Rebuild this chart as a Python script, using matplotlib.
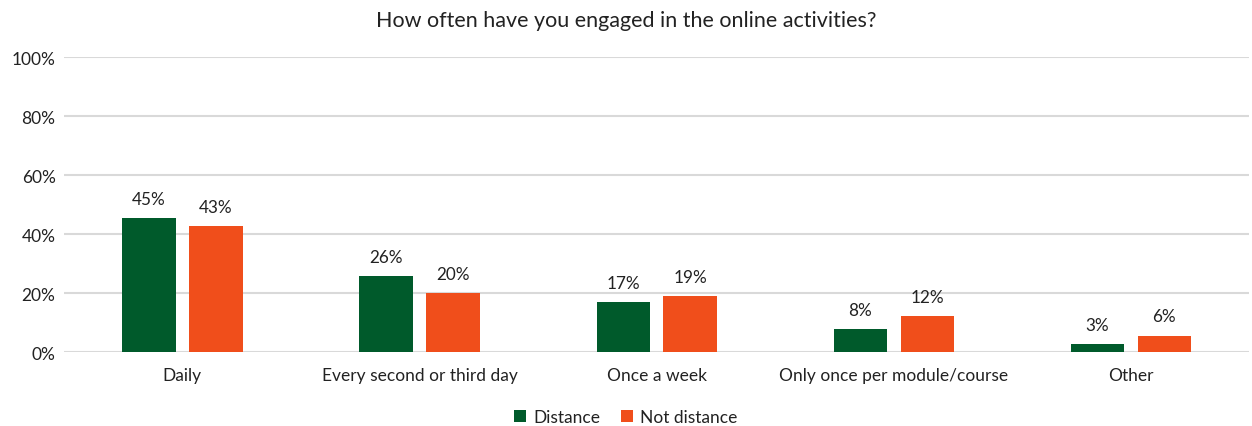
import numpy as np
from matplotlib import pyplot as plt

plt.rcParams['font.family'] = ['Lato', 'DejaVu Sans']

categories = ['Daily', 'Every second or third day', 'Once a week',
              'Only once per module/course', 'Other']
distance = [45.3, 25.9, 17.0, 7.9, 2.6]
not_distance = [42.7, 20.1, 18.9, 12.2, 5.6]
series_names = ['Distance', 'Not distance']
yticks = [0, 20, 40, 60, 80, 100]

green = '#005a2b'
orange = '#f04e1b'
grid_col = '#d9d9d9'

fig = plt.figure(figsize=(12.52, 4.27), dpi=100)
ax = fig.add_axes([0.051, 0.173, 0.947, 0.691])

x = np.arange(len(categories))
w = 0.225
off = 0.141
b1 = ax.bar(x - off, distance, w, color=green, label=series_names[0], zorder=3)
b2 = ax.bar(x + off, not_distance, w, color=orange, label=series_names[1], zorder=3)

for bars, vals in [(b1, distance), (b2, not_distance)]:
    for r, v in zip(bars, vals):
        ax.annotate('{:.0f}%'.format(v), (r.get_x() + r.get_width() / 2, v),
                    xytext=(0, 8), textcoords='offset points',
                    ha='center', va='bottom', fontsize=12.3, color='#222222')

ax.set_xlim(-0.5, len(categories) - 0.5)
ax.set_ylim(0, 100)
ax.set_yticks(yticks)
ax.set_yticklabels(['{}%'.format(t) for t in yticks])
ax.set_xticks(x)
ax.set_xticklabels(categories)
ax.tick_params(axis='both', length=0, labelsize=12.5, colors='#222222')
ax.tick_params(axis='x', pad=11)
ax.tick_params(axis='y', pad=6)
ax.grid(axis='y', color=grid_col, linewidth=1.5, zorder=0)
for s in ax.spines.values():
    s.set_visible(False)

fig.suptitle('How often have you engaged in the online activities?',
             y=0.975, fontsize=15.5, color='#222222')
fig.legend(loc='lower center', bbox_to_anchor=(0.5, -0.035), ncol=2, frameon=False,
           fontsize=12.5, handlelength=0.7, handleheight=0.7, handletextpad=0.4,
           columnspacing=1.2, labelcolor='#222222')

fig.savefig('out.png', dpi=100)
